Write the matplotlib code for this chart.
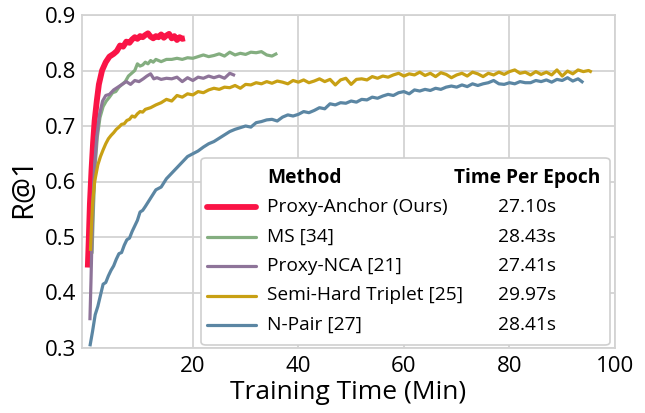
import matplotlib
matplotlib.use("Agg")
import matplotlib.pyplot as plt
from matplotlib.patches import FancyBboxPatch
from matplotlib.lines import Line2D

plt.rcParams['font.family'] = ['Open Sans', 'DejaVu Sans']

# ---------------- data ----------------
methods = ["Proxy-Anchor (Ours)", "MS [34]", "Proxy-NCA [21]", "Semi-Hard Triplet [25]", "N-Pair [27]"]
epoch_times = ["27.10s", "28.43s", "27.41s", "29.97s", "28.41s"]
colors = ["#FA1446", "#84AE80", "#8E7499", "#C8A014", "#5B86A3"]
widths = [4.2, 2.3, 2.3, 2.3, 2.3]

pa_x = [0.1, 0.3, 0.5, 0.8, 1.1, 1.4, 1.8, 2.2, 2.8, 3.5, 4.2, 5.0, 5.6, 6.2, 6.8, 7.4, 8.0, 8.5,
        9.0, 9.5, 10.0, 10.5, 11.0, 11.5, 12.0, 12.5, 13.0, 13.5, 14.0, 14.5, 15.0, 15.5, 16.0,
        16.5, 17.0, 17.5, 18.0, 18.5]
pa_y = [0.445, 0.50, 0.56, 0.62, 0.67, 0.71, 0.745, 0.775, 0.80, 0.815, 0.825, 0.83, 0.835, 0.845,
        0.843, 0.852, 0.850, 0.856, 0.860, 0.857, 0.862, 0.860, 0.864, 0.867, 0.861, 0.858, 0.862,
        0.860, 0.865, 0.859, 0.863, 0.866, 0.858, 0.862, 0.855, 0.860, 0.857, 0.858]

ms_x = [0.9, 1.2, 1.5, 1.9, 2.4, 3.0, 3.6, 4.2, 4.8, 5.4, 6.0, 6.6, 7.2, 7.8, 8.4, 9.0, 9.5, 10.0,
        10.5, 11.0, 11.5, 12.0, 12.5, 13.0, 13.5, 14.0, 15, 16, 17, 18, 19, 20, 21, 22, 23, 24, 25,
        26, 27, 28, 29, 30, 31, 32, 33, 34, 35, 36]
ms_y = [0.47, 0.56, 0.63, 0.68, 0.715, 0.735, 0.745, 0.752, 0.76, 0.762, 0.77, 0.775, 0.78, 0.79,
        0.795, 0.80, 0.812, 0.808, 0.810, 0.815, 0.812, 0.818, 0.815, 0.820, 0.818, 0.816, 0.82,
        0.82, 0.822, 0.82, 0.823, 0.822, 0.825, 0.828, 0.825, 0.827, 0.83, 0.826, 0.833, 0.828,
        0.831, 0.829, 0.833, 0.832, 0.834, 0.828, 0.826, 0.831]

nca_x = [0.5, 0.7, 0.9, 1.1, 1.4, 1.8, 2.3, 2.9, 3.5, 4.2, 5.0, 5.8, 6.6, 7.4, 8.2, 9.0, 9.8, 10.6,
         11.3, 12.0, 12.6, 13.2, 14, 15, 16, 17, 18, 19, 20, 21, 22, 23, 24, 25, 26, 27, 28]
nca_y = [0.35, 0.42, 0.50, 0.57, 0.63, 0.68, 0.72, 0.745, 0.755, 0.757, 0.765, 0.77, 0.775, 0.78,
         0.775, 0.782, 0.78, 0.785, 0.79, 0.794, 0.785, 0.787, 0.784, 0.786, 0.785, 0.788, 0.78,
         0.787, 0.782, 0.788, 0.786, 0.79, 0.787, 0.79, 0.786, 0.795, 0.791]

sh_x = [0.6, 0.8, 1.0, 1.4, 2.0, 2.5, 3.0, 3.5, 4.0, 4.5, 5.0, 5.5, 6.0, 6.5, 7.0, 7.5, 8.0, 8.5,
        9.0, 9.5, 10, 10.5, 11, 12, 13, 14, 15, 16, 17, 18, 19, 20, 21, 22, 23, 24, 25, 26, 27, 28,
        29, 30, 31, 32, 33, 34, 35, 36, 37, 38, 39, 40, 41, 42, 43, 44, 45, 46, 47, 48, 49, 50, 51,
        52, 53, 54, 55, 56, 57, 58, 59, 60, 61, 62, 63, 64, 65, 66, 67, 68, 69, 70, 71, 72, 73, 74,
        75, 76, 77, 78, 79, 80, 81, 82, 83, 84, 85, 86, 87, 88, 89, 90, 91, 92, 93, 94, 95, 95.6]
sh_y = [0.475, 0.52, 0.56, 0.60, 0.63, 0.645, 0.657, 0.668, 0.677, 0.683, 0.688, 0.694, 0.698,
        0.703, 0.704, 0.710, 0.712, 0.718, 0.716, 0.722, 0.726, 0.725, 0.73, 0.733, 0.738, 0.742,
        0.748, 0.745, 0.755, 0.752, 0.758, 0.756, 0.762, 0.760, 0.765, 0.768, 0.766, 0.770, 0.769,
        0.773, 0.768, 0.775, 0.774, 0.778, 0.776, 0.780, 0.777, 0.781, 0.779, 0.776, 0.782, 0.779,
        0.783, 0.778, 0.781, 0.785, 0.78, 0.784, 0.774, 0.783, 0.786, 0.775, 0.784, 0.785, 0.783,
        0.789, 0.786, 0.790, 0.788, 0.792, 0.795, 0.790, 0.794, 0.792, 0.797, 0.791, 0.795, 0.789,
        0.796, 0.793, 0.787, 0.792, 0.795, 0.790, 0.797, 0.794, 0.789, 0.795, 0.792, 0.797, 0.793,
        0.798, 0.801, 0.795, 0.797, 0.792, 0.798, 0.793, 0.797, 0.792, 0.801, 0.790, 0.799, 0.794,
        0.801, 0.798, 0.800, 0.797]

np_x = [0.5, 1.0, 1.5, 2.0, 2.5, 3.0, 3.5, 4.0, 4.5, 5.0, 5.5, 6.0, 6.5, 7.0, 7.5, 8.0, 8.5, 9.0,
        9.5, 10.0, 10.5, 11.0, 12, 13, 14, 15, 16, 17, 18, 19, 20, 21, 22, 23, 24, 25, 26, 27, 28,
        29, 30, 31, 32, 33, 34, 35, 36, 37, 38, 39, 40, 41, 42, 43, 44, 45, 46, 47, 48, 49, 50, 51,
        52, 53, 54, 55, 56, 57, 58, 59, 60, 61, 62, 63, 64, 65, 66, 67, 68, 69, 70, 71, 72, 73, 74,
        75, 76, 77, 78, 79, 80, 81, 82, 83, 84, 85, 86, 87, 88, 89, 90, 91, 92, 93, 94]
np_y = [0.303, 0.33, 0.36, 0.375, 0.395, 0.415, 0.418, 0.43, 0.44, 0.448, 0.46, 0.47, 0.472, 0.485,
        0.495, 0.498, 0.51, 0.52, 0.53, 0.545, 0.548, 0.555, 0.57, 0.585, 0.59, 0.605, 0.615, 0.625,
        0.635, 0.645, 0.65, 0.655, 0.662, 0.668, 0.672, 0.678, 0.684, 0.69, 0.694, 0.697, 0.70,
        0.698, 0.706, 0.708, 0.711, 0.712, 0.709, 0.716, 0.72, 0.718, 0.721, 0.726, 0.724, 0.728,
        0.733, 0.731, 0.740, 0.738, 0.742, 0.741, 0.745, 0.743, 0.748, 0.747, 0.752, 0.750, 0.754,
        0.757, 0.755, 0.760, 0.762, 0.758, 0.765, 0.763, 0.766, 0.764, 0.768, 0.766, 0.770, 0.772,
        0.770, 0.774, 0.771, 0.776, 0.773, 0.776, 0.778, 0.782, 0.776, 0.775, 0.778, 0.776, 0.780,
        0.778, 0.778, 0.782, 0.780, 0.783, 0.779, 0.784, 0.782, 0.787, 0.781, 0.785, 0.778]

series_x = [pa_x, ms_x, nca_x, sh_x, np_x]
series_y = [pa_y, ms_y, nca_y, sh_y, np_y]

x_ticks = [20, 40, 60, 80, 100]
y_ticks = [0.3, 0.4, 0.5, 0.6, 0.7, 0.8, 0.9]

# ---------------- figure ----------------
W, H = 645, 413
fig = plt.figure(figsize=(W / 100, H / 100), dpi=100)
ax = fig.add_axes([82 / W, (H - 348) / H, 533 / W, 333 / H])

for xs, ys, c, lw in zip(series_x, series_y, colors, widths):
    ax.plot(xs, ys, color=c, lw=lw, solid_joinstyle='round', solid_capstyle='butt', zorder=3)

ax.set_xlim(-1, 100)
ax.set_ylim(0.3, 0.9)
ax.set_xticks(x_ticks)
ax.set_yticks(y_ticks)
ax.set_yticklabels([f"{v:.1f}" for v in y_ticks])
ax.grid(True, color="#d3d3d3", lw=1.3, zorder=0)
ax.set_axisbelow(True)
for s in ax.spines.values():
    s.set_color("#d3d3d3")
    s.set_linewidth(1.3)
ax.tick_params(length=0, labelsize=16, pad=4)
ax.tick_params(axis='x', pad=6)
ax.set_xlabel("Training Time (Min)", fontsize=19, labelpad=2)
ax.set_ylabel("R@1", fontsize=21)
ax.yaxis.set_label_coords(-0.083, 0.5 - 6 / 333)


# ---------------- custom legend table ----------------
def fx(px):
    return px / W


def fy(py):
    return 1 - py / H


box = FancyBboxPatch((fx(201), fy(345)), fx(610) - fx(201), fy(158) - fy(345),
                     boxstyle="round,pad=0,rounding_size=0.008",
                     transform=fig.transFigure, facecolor="white",
                     edgecolor="#cfcfcf", lw=1.2, zorder=5)
fig.patches.append(box)

fs_leg = 13.8
header_y = 178
row_y0 = 207
row_dy = 29.5
fig.text(fx(267), fy(header_y), "Method", fontsize=fs_leg, fontweight='bold',
         ha='left', va='center', zorder=6)
fig.text(fx(527), fy(header_y), "Time Per Epoch", fontsize=fs_leg, fontweight='bold',
         ha='center', va='center', zorder=6)
for i, (m, t, c, lw) in enumerate(zip(methods, epoch_times, colors, widths)):
    y = row_y0 + i * row_dy
    fig.lines.append(Line2D([fx(207), fx(256)], [fy(y), fy(y)], color=c, lw=lw,
                            transform=fig.transFigure, solid_capstyle='round', zorder=6))
    fig.text(fx(267), fy(y), m, fontsize=fs_leg, ha='left', va='center', zorder=6)
    fig.text(fx(527), fy(y), t, fontsize=fs_leg, ha='center', va='center', zorder=6)

fig.savefig("out.png", dpi=100)
